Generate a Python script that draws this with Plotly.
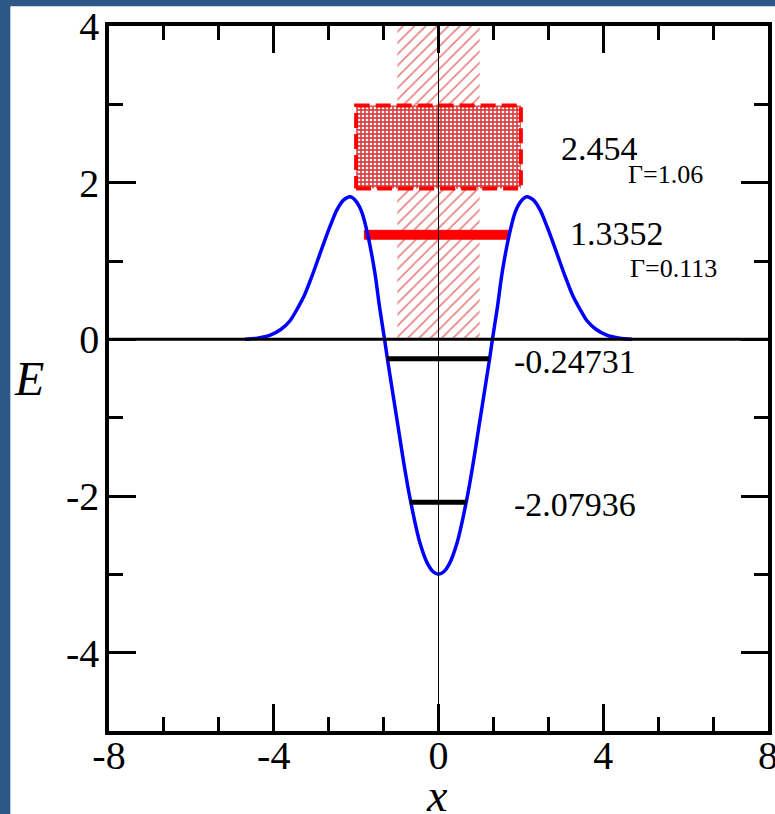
import plotly.graph_objects as go

# ---------------- data ----------------
# potential curve (x, V)
x_pot = [-4.70, -4.40, -4.10, -3.83, -3.60, -3.43, -3.25, -3.07, -2.90, -2.77, -2.62, -2.47, -2.30,
         -2.14, -2.00, -1.86, -1.72, -1.545, -1.43, -1.31, -1.24, -1.10, -0.98, -0.83, -0.68,
         -0.46, -0.26, -0.13, 0.0,
         0.13, 0.26, 0.46, 0.68, 0.83, 0.98, 1.10, 1.24, 1.31, 1.43, 1.545, 1.72, 1.86, 2.00,
         2.14, 2.30, 2.47, 2.62, 2.77, 2.90, 3.07, 3.25, 3.43, 3.60, 3.83, 4.10, 4.40, 4.70]
v_pot = [0.00, 0.015, 0.05, 0.125, 0.24, 0.39, 0.57, 0.81, 1.06, 1.25, 1.46, 1.65, 1.78,
         1.82, 1.76, 1.62, 1.34, 0.85, 0.41, 0.00, -0.25, -0.72, -1.12, -1.62, -2.06,
         -2.58, -2.87, -2.967, -3.00,
         -2.967, -2.87, -2.58, -2.06, -1.62, -1.12, -0.72, -0.25, 0.00, 0.41, 0.85, 1.34, 1.62, 1.76,
         1.82, 1.78, 1.65, 1.46, 1.25, 1.06, 0.81, 0.57, 0.39, 0.24, 0.125, 0.05, 0.015, 0.00]

# bound states: energy and classical turning points
bound_E = [-0.24731, -2.07936]
bound_xl = [-1.25, -0.69]
bound_xr = [1.23, 0.68]
bound_labels = ["-0.24731", "-2.07936"]

# resonances: energy, width, horizontal extent
res_E = [2.454, 1.3352]
res_G = [1.06, 0.113]
res_xl = [-2.0, -1.80]
res_xr = [2.0, 1.72]
res_labels = ["2.454", "1.3352"]
res_glabels = ["\u0393=1.06", "\u0393=0.113"]

# hatched region
hatch_x = [-1.0, 1.0]
hatch_E = [0.0, 4.0]

# axes
x_range = [-8, 8]
y_range = [-5, 4]
x_ticks = [-8, -4, 0, 4, 8]
y_ticks = [-4, -2, 0, 2, 4]

FONT = "Liberation Serif"

fig = go.Figure()

# hatched region
hx0, hx1 = hatch_x
he0, he1 = hatch_E
fig.add_trace(go.Scatter(
    x=[hx0, hx1, hx1, hx0, hx0], y=[he0, he0, he1, he1, he0],
    mode="lines", fill="toself", line=dict(width=0, color="rgba(0,0,0,0)"),
    fillcolor="rgba(0,0,0,0)",
    fillpattern=dict(shape="/", fgcolor="#d00000", bgcolor="rgba(0,0,0,0)",
                     size=8, solidity=0.2),
    hoverinfo="skip", showlegend=False))

# broad resonance box (dotted fill, dashed border)
e, g = res_E[0], res_G[0]
xl, xr = res_xl[0], res_xr[0]
fig.add_trace(go.Scatter(
    x=[xl, xr, xr, xl, xl], y=[e - g / 2, e - g / 2, e + g / 2, e + g / 2, e - g / 2],
    mode="lines", fill="toself",
    line=dict(color="#ff0000", width=4, dash="15px,6px"),
    fillcolor="#dc6a6a",
    fillpattern=dict(shape=".", fgcolor="#ffffff", bgcolor="#d84444",
                     size=4, solidity=0.35, fillmode="replace"),
    hoverinfo="skip", showlegend=False))

# narrow resonance bar
e, g = res_E[1], res_G[1]
xl, xr = res_xl[1], res_xr[1]
fig.add_trace(go.Scatter(
    x=[xl, xr, xr, xl, xl], y=[e - g / 2, e - g / 2, e + g / 2, e + g / 2, e - g / 2],
    mode="lines", fill="toself", line=dict(color="#ff0000", width=1),
    fillcolor="#ff0000", hoverinfo="skip", showlegend=False))

# potential
fig.add_trace(go.Scatter(
    x=x_pot, y=v_pot, mode="lines",
    line=dict(color="#0000ff", width=3.5, shape="spline", smoothing=0.8),
    hoverinfo="skip", showlegend=False))

# zero line and vertical axis line
fig.add_trace(go.Scatter(x=x_range, y=[0, 0], mode="lines",
                         line=dict(color="black", width=3), hoverinfo="skip", showlegend=False))
fig.add_trace(go.Scatter(x=[0, 0], y=y_range, mode="lines",
                         line=dict(color="black", width=1), hoverinfo="skip", showlegend=False))

# bound state lines
for E, a, b in zip(bound_E, bound_xl, bound_xr):
    fig.add_trace(go.Scatter(x=[a, b], y=[E, E], mode="lines",
                             line=dict(color="black", width=5), hoverinfo="skip", showlegend=False))

# labels
ann = []
for E, lab in zip(bound_E, bound_labels):
    ann.append(dict(x=3.32, y=E - 0.03, text=lab, showarrow=False, xanchor="center", yanchor="middle",
                    font=dict(family=FONT, size=34, color="black")))
lab_pos = [(3.92, 2.43, 5.52, 2.10), (4.34, 1.35, 5.71, 0.90)]
for (lx, ly, gx, gy), lab, glab in zip(lab_pos, res_labels, res_glabels):
    ann.append(dict(x=lx, y=ly, text=lab, showarrow=False, xanchor="center", yanchor="middle",
                    font=dict(family=FONT, size=34, color="black")))
    ann.append(dict(x=gx, y=gy, text=glab, showarrow=False, xanchor="center", yanchor="middle",
                    font=dict(family=FONT, size=26, color="black")))

# plot-area geometry (px) used to place the axis titles
L, R, T, B = 108.75, 6.75, 25.75, 82.75
PW, PH = 775 - L - R, 814 - T - B

ann.append(dict(xref="paper", yref="paper", x=(29 - L) / PW, y=(814 - B - 378) / PH,
                text="<i>E</i>", showarrow=False, xanchor="center", yanchor="middle",
                font=dict(family=FONT, size=48, color="black")))
ann.append(dict(xref="paper", yref="paper", x=(437 - L) / PW, y=(814 - B - 796) / PH,
                text="<i>x</i>", showarrow=False, xanchor="center", yanchor="middle",
                font=dict(family=FONT, size=46, color="black")))

# background: blue slide with white panel
shapes = [dict(type="rect", xref="paper", yref="paper", layer="below",
               x0=(10 - L) / PW, x1=1.05, y0=-0.2, y1=1 + (T - 6) / PH,
               fillcolor="white", line=dict(width=0))]

axis_common = dict(showgrid=False, zeroline=False, showline=True, linecolor="black", linewidth=3.5,
                   mirror="allticks", ticks="inside", ticklen=27, tickwidth=3, tickcolor="black",
                   automargin=False, ticklabeloverflow="allow",
                   tickfont=dict(family=FONT, size=40, color="black"))

fig.update_layout(
    width=775, height=814,
    margin=dict(l=L, r=R, t=T, b=B, autoexpand=False),
    font=dict(family=FONT, color="black"),
    paper_bgcolor="#2c5887", plot_bgcolor="white",
    shapes=shapes, annotations=ann,
    xaxis=dict(range=x_range, tickvals=x_ticks, ticktext=[str(v) for v in x_ticks],
               ticklabelstandoff=-14,
               minor=dict(ticks="inside", ticklen=14, tickwidth=3, tickcolor="black",
                          tick0=-8, dtick=4 / 3),
               **axis_common),
    yaxis=dict(range=y_range, tickvals=y_ticks, ticktext=[str(v) for v in y_ticks],
               ticklabelstandoff=-2,
               minor=dict(ticks="inside", ticklen=14, tickwidth=3, tickcolor="black",
                          tick0=-5, dtick=1),
               **axis_common),
)

fig.write_html("out.html",
               config={"displayModeBar": False},
               post_script="document.body.style.margin='0px';"
                           "document.body.style.background='#2c5887';"
                           "document.body.style.overflow='hidden';")
